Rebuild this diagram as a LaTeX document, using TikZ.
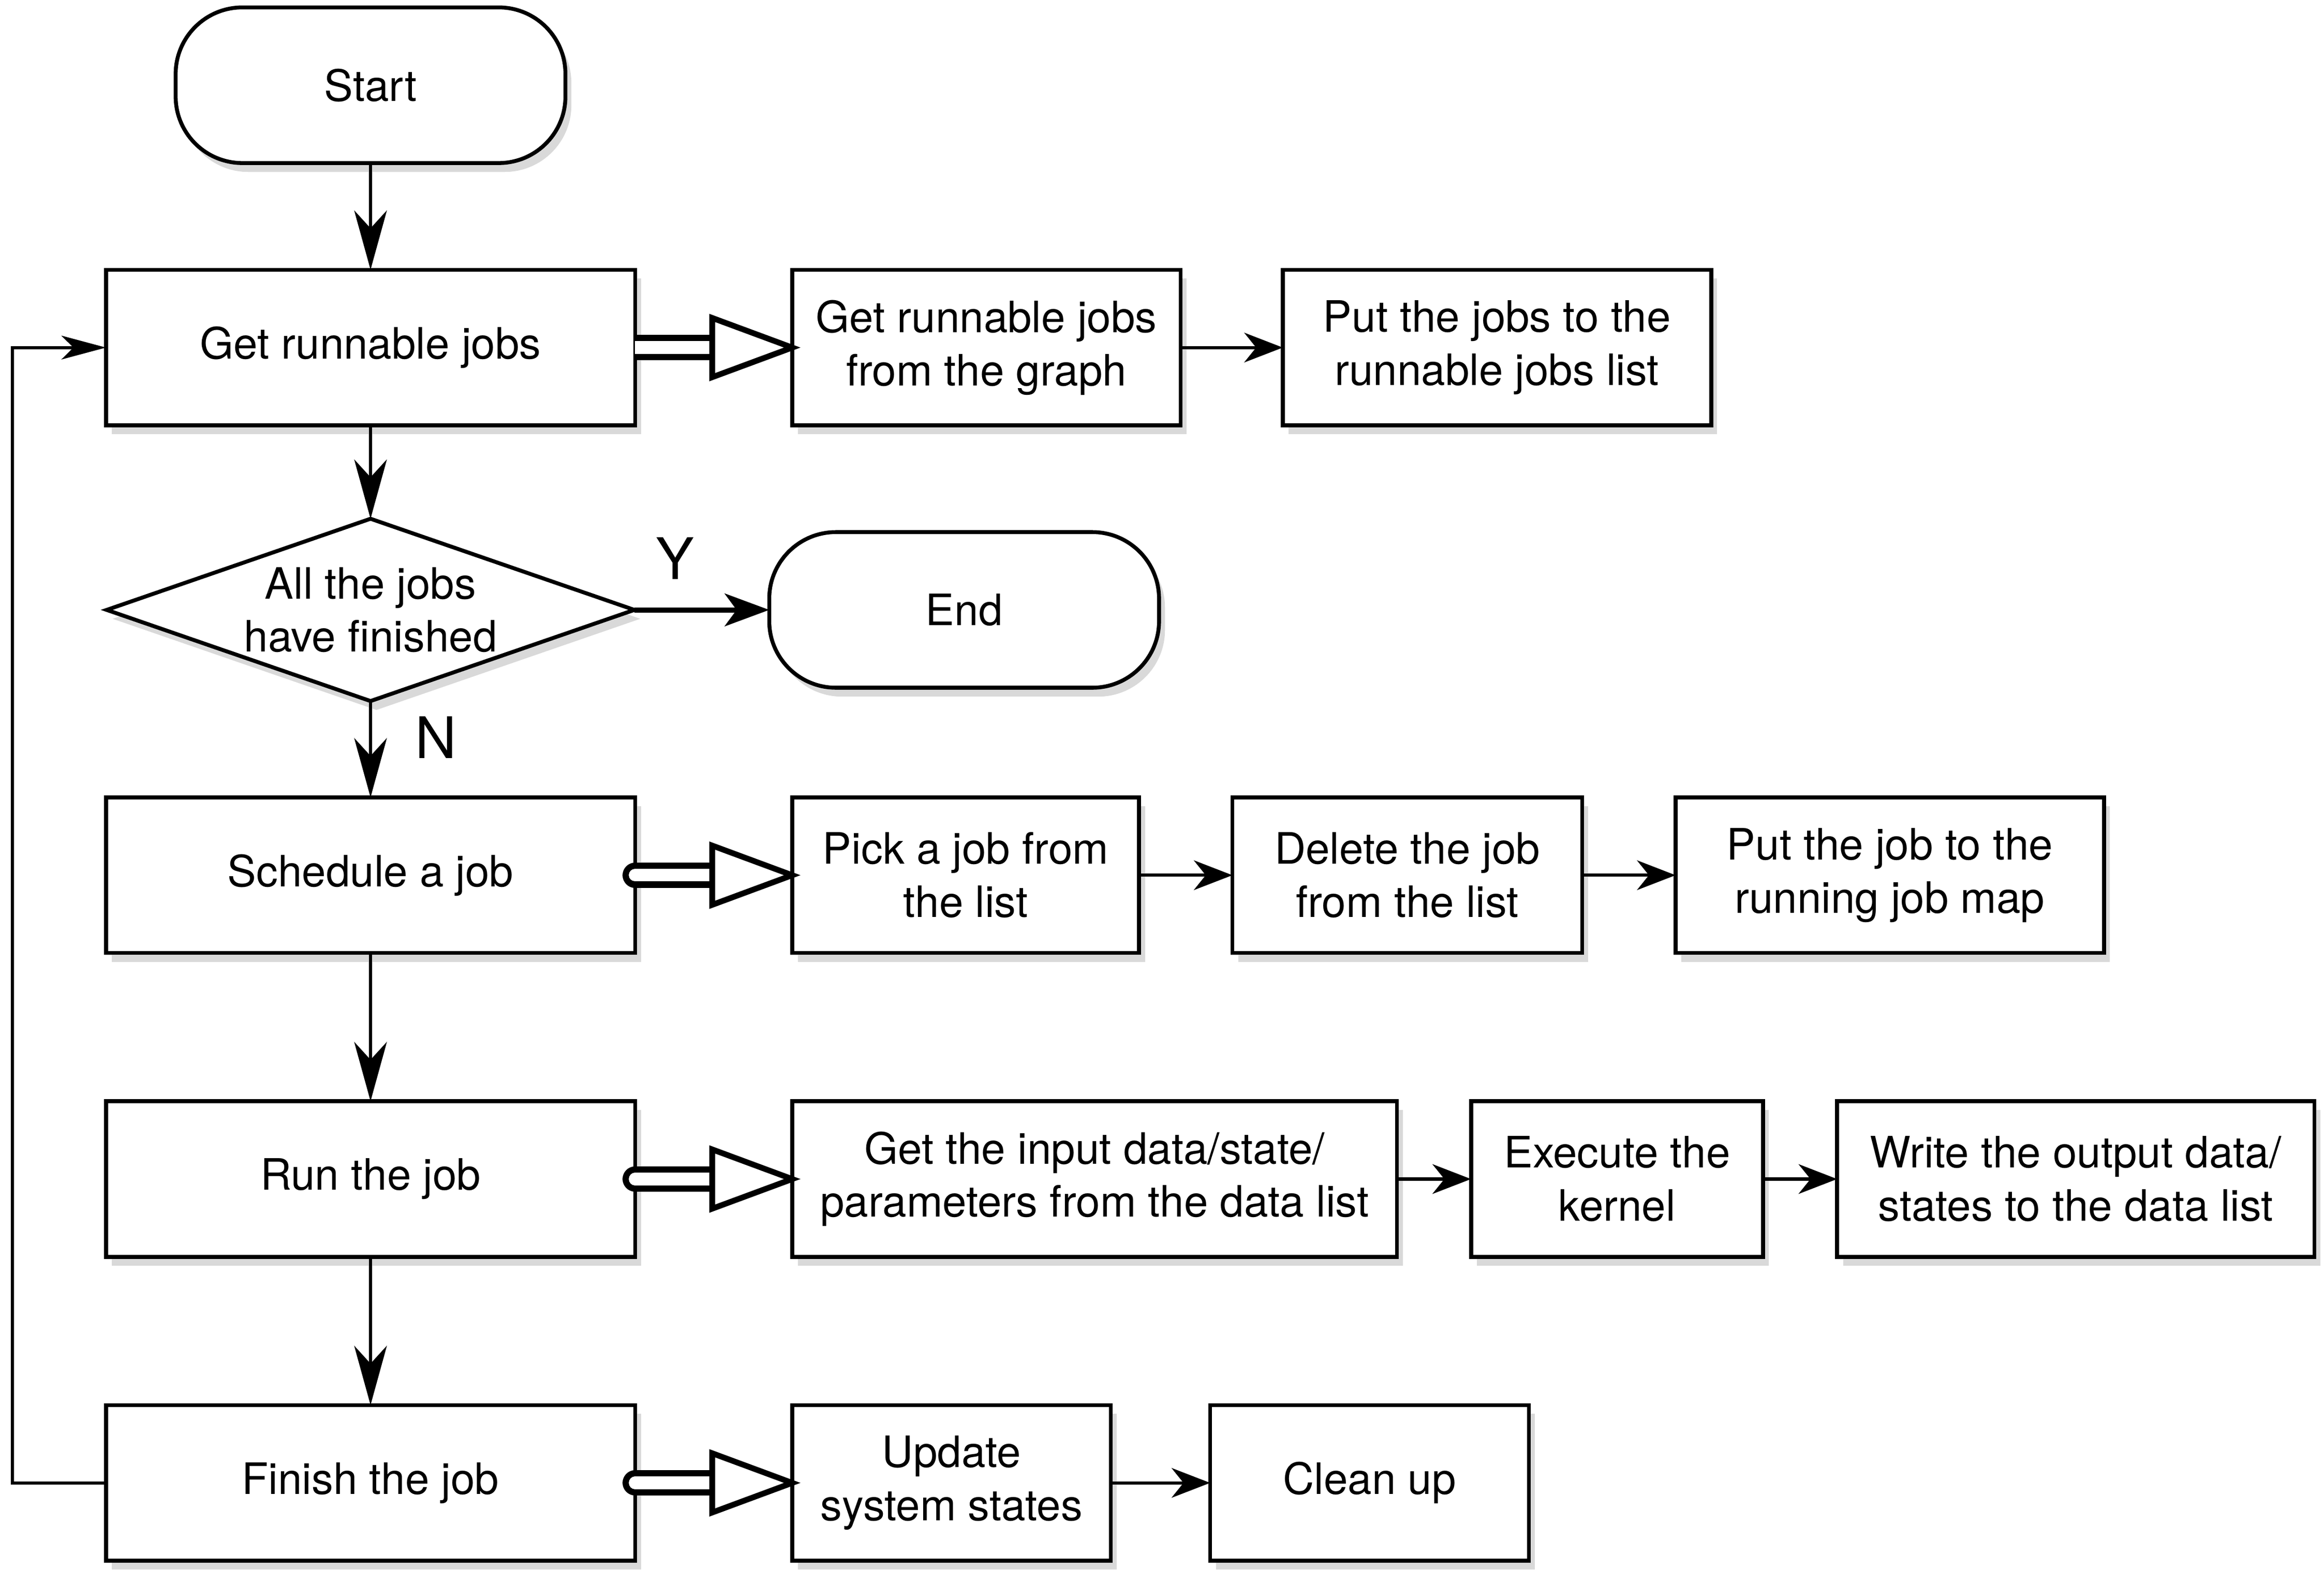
\documentclass[tikz,border=0pt]{standalone}
\usepackage{fontspec}
\setmainfont{TeX Gyre Heros}
\usetikzlibrary{positioning, shapes.geometric, arrows.meta, calc, shadows}

% hollow double arrow between two boxes
\newcommand{\hollowarr}[3][]{%
  \draw[line width=1.2pt, double distance=0.85mm, #1] (#2.east) -- ($(#3.west)+(-0.54,0)$);
  \draw[line width=1.1pt, fill=white, line join=miter] ($(#3.west)+(-0.54,0.2)$) -- (#3.west) -- ($(#3.west)+(-0.54,-0.2)$) -- cycle;
}

\begin{document}
\begin{tikzpicture}[
    box/.style={rectangle, draw, line width=0.75pt, fill=white, outer sep=0pt, minimum height=1.05cm, align=center,
      font=\fontsize{8.3}{10.2}\selectfont,
      drop shadow={shadow xshift=0.04cm, shadow yshift=-0.06cm, opacity=0.3}},
    term/.style={box, rounded corners=0.45cm, minimum width=2.63cm},
    decision/.style={box, diamond, aspect=2.9, inner sep=0pt, minimum width=3.56cm, minimum height=1.23cm},
    vline/.style={line width=0.6pt, -{Stealth[length=0.4cm, width=0.22cm, inset=0.12cm]}},
    hline/.style={line width=0.6pt, -{Stealth[length=0.26cm, width=0.2cm, inset=0.08cm]}},
    lbl/.style={inner sep=0pt, font=\fontsize{11}{13}\selectfont}
  ]
  \useasboundingbox (0,0) rectangle (15.68,-10.59);

  % Main column
  \node[term] (start) at (2.5,-0.575) {Start};
  \node[box, minimum width=3.57cm] (getjobs) at (2.5,-2.345) {Get runnable jobs};
  \node[decision] (check) at (2.5,-4.115) {All the jobs\\have finished};
  \node[term, right=0.91cm of check] (end) {End};
  \node[box, minimum width=3.57cm] (schedule) at (2.5,-5.905) {Schedule a job};
  \node[box, minimum width=3.57cm] (run) at (2.5,-7.955) {Run the job};
  \node[box, minimum width=3.57cm] (finish) at (2.5,-10.005) {Finish the job};

  % Row: get runnable jobs
  \node[box, minimum width=2.62cm, right=1.06cm of getjobs] (graph) {Get runnable jobs\\from the graph};
  \node[box, minimum width=2.89cm, right=0.69cm of graph] (putlist) {Put the jobs to the\\runnable jobs list};

  % Row: schedule
  \node[box, minimum width=2.34cm, right=1.06cm of schedule] (pick) {Pick a job from\\the list};
  \node[box, minimum width=2.36cm, right=0.63cm of pick] (delete) {Delete the job\\from the list};
  \node[box, minimum width=2.89cm, right=0.63cm of delete] (runmap) {Put the job to the\\running job map};

  % Row: run
  \node[box, minimum width=4.08cm, right=1.06cm of run] (input) {Get the input data/state/\\parameters from the data list};
  \node[box, minimum width=1.97cm, right=0.5cm of input] (kernel) {Execute the\\kernel};
  \node[box, minimum width=3.22cm, right=0.5cm of kernel] (output) {Write the output data/\\states to the data list};

  % Row: finish
  \node[box, minimum width=2.15cm, right=1.06cm of finish] (update) {Update\\system states};
  \node[box, minimum width=2.15cm, right=0.67cm of update] (cleanup) {Clean up};

  % Flow
  \draw[vline] (start) -- (getjobs);
  \draw[vline] (getjobs) -- (check);
  \draw[line width=1pt, -{Stealth[length=0.3cm, width=0.22cm, inset=0.08cm]}] (check.east) -- node[lbl, pos=0.3, above=0.19cm] {Y} (end.west);
  \draw[vline] (check.south) -- node[lbl, pos=0.38, right=0.29cm] {N} (schedule.north);
  \draw[vline] (schedule) -- (run);
  \draw[vline] (run) -- (finish);
  \draw[line width=0.6pt, -{Stealth[length=0.3cm, width=0.16cm, inset=0.08cm]}] (finish.west) -- ++(-0.63,0) |- (getjobs.west);

  % Detail arrows
  \hollowarr{getjobs}{graph}
  \hollowarr[line cap=round]{schedule}{pick}
  \hollowarr[line cap=round]{run}{input}
  \hollowarr[line cap=round]{finish}{update}
  \draw[hline] (graph) -- (putlist);
  \draw[hline] (pick) -- (delete);
  \draw[hline] (delete) -- (runmap);
  \draw[hline] (input) -- (kernel);
  \draw[hline] (kernel) -- (output);
  \draw[hline] (update) -- (cleanup);
\end{tikzpicture}
\end{document}
